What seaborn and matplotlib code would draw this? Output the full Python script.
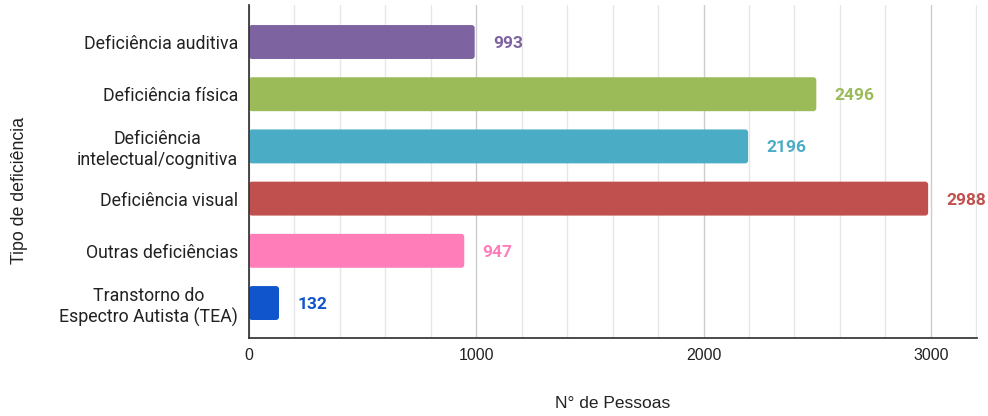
import matplotlib
matplotlib.use("Agg")
import matplotlib.pyplot as plt
import seaborn as sns
import pandas as pd
from matplotlib.ticker import MultipleLocator
from matplotlib.patches import FancyBboxPatch

categories = ["Deficiência auditiva", "Deficiência física", "Deficiência\nintelectual/cognitiva",
              "Deficiência visual", "Outras deficiências", "Transtorno do\nEspectro Autista (TEA)"]
values = [993, 2496, 2196, 2988, 947, 132]
colors = ["#7E63A1", "#9BBB59", "#4BACC6", "#C0504D", "#FF7EB9", "#1155CC"]
x_label = "N° de Pessoas"
y_label = "Tipo de deficiência"

df = pd.DataFrame({"cat": categories, "val": values})

sns.set_theme(style="white")
plt.rcParams["font.family"] = ["Roboto", "DejaVu Sans"]

fig = plt.figure(figsize=(9.88, 4.16), dpi=100)
ax = fig.add_axes([249/988, 1-338/416, (977-249)/988, (338-5)/416])

sns.barplot(data=df, x="val", y="cat", hue="cat", palette=colors, dodge=False,
            legend=False, width=0.65, ax=ax, saturation=1)

ax.set_xlim(0, 3203)
ax.set_ylim(5.67, -0.709)

# round bar corners slightly
px_x = 3203 / 728
px_y = (5.67 + 0.709) / 333
for p in list(ax.patches):
    x0, y0 = p.get_x(), p.get_y()
    w, h = p.get_width(), p.get_height()
    fc = p.get_facecolor()
    p.set_visible(False)
    fb = FancyBboxPatch((x0, y0), w, h,
                        boxstyle=f"round,pad=0,rounding_size={3 * px_x}",
                        mutation_aspect=px_y / px_x, facecolor=fc, edgecolor="none",
                        zorder=p.get_zorder())
    ax.add_patch(fb)

for i, (v, c) in enumerate(zip(values, colors)):
    ax.text(v + 80, i + 0.03, str(v), color=c, fontweight="bold", fontsize=12.5,
            va="center", ha="left")

ax.xaxis.set_major_locator(MultipleLocator(1000))
ax.xaxis.set_minor_locator(MultipleLocator(200))
ax.grid(axis="x", which="minor", color="#E6E6E6", linewidth=1)
ax.grid(axis="x", which="major", color="#CCCCCC", linewidth=1)
ax.set_axisbelow(True)
ax.tick_params(axis="x", which="major", direction="in", length=13, width=1, color="#333333",
               labelsize=11.5, pad=7, labelcolor="#222222")
ax.tick_params(axis="x", which="minor", direction="in", length=6.5, width=1, color="#333333")
ax.tick_params(axis="y", length=0, labelsize=12.8, labelcolor="#222222", pad=8)
for lab in ax.get_xticklabels():
    lab.set_family(["Liberation Sans", "DejaVu Sans"])
for s in ["top", "right"]:
    ax.spines[s].set_visible(False)
ax.spines["left"].set_color("#333333")
ax.spines["bottom"].set_color("#333333")
ax.set_xlabel(x_label, fontsize=12.5, color="#222222", family=["Liberation Sans", "DejaVu Sans"])
ax.set_ylabel(y_label, fontsize=12.8, color="#222222", family=["Liberation Sans", "DejaVu Sans"])
ax.xaxis.set_label_coords(0.5, -(404 - 338) / 333)
ax.xaxis.label.set_va("center")
ax.yaxis.set_label_coords(-(249 - 19) / 728, (338 - 190) / 333)
ax.yaxis.label.set_va("center")
for lab in ax.get_yticklabels():
    lab.set_multialignment("center")

fig.savefig("out.png", dpi=100)
